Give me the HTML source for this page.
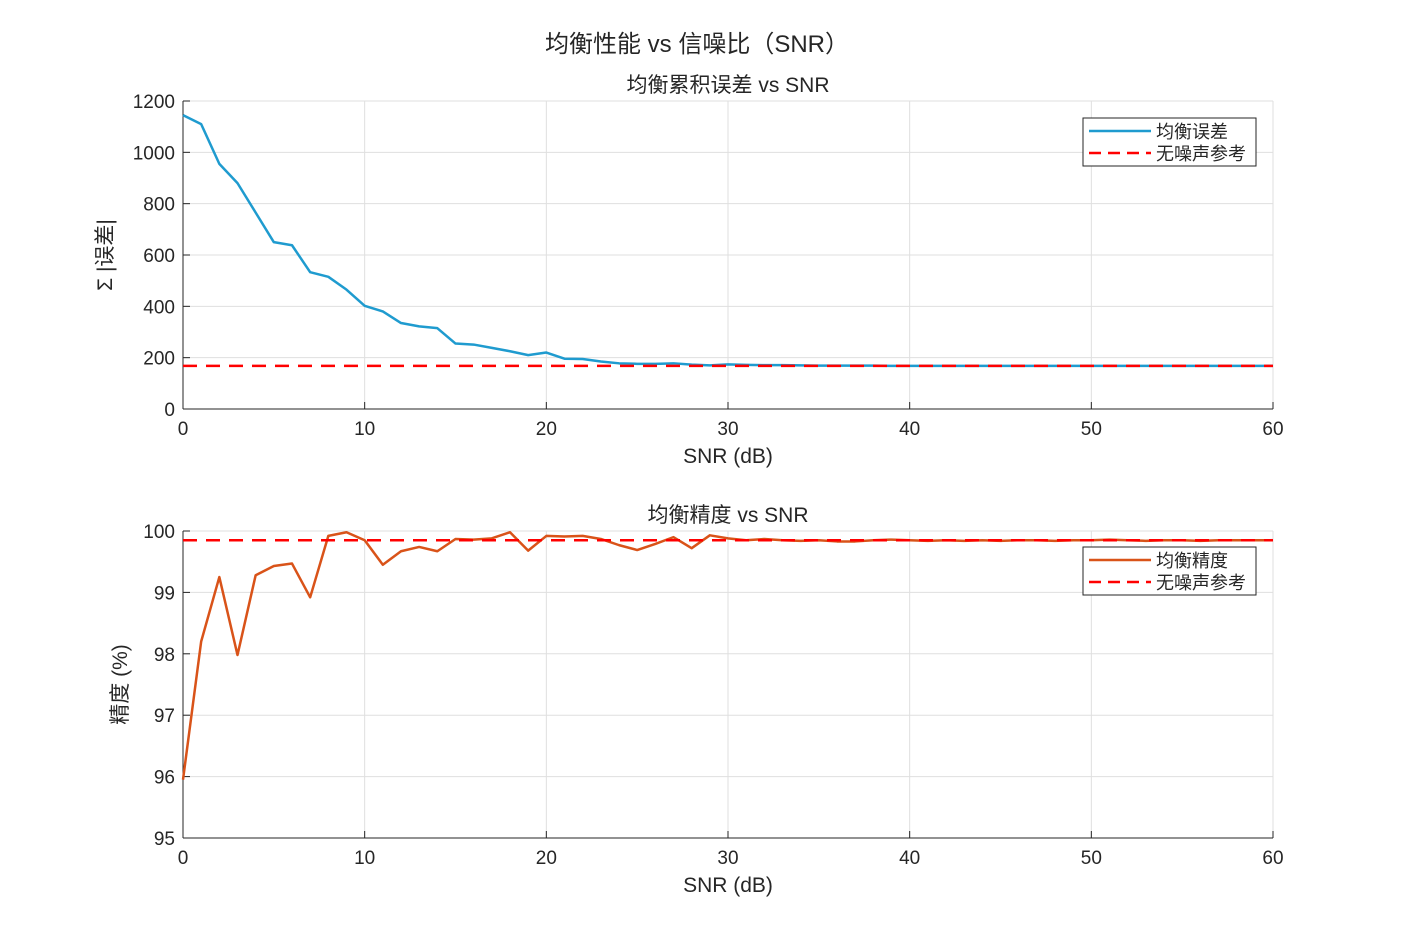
<!DOCTYPE html>
<html><head><meta charset="utf-8"><style>
body{margin:0;background:#fff}
svg text{font-family:"Liberation Sans","Noto Sans CJK SC",sans-serif;fill:#262626}
</style></head><body>
<svg id="fig" width="1407" height="938" xmlns="http://www.w3.org/2000/svg">
<rect width="1407" height="938" fill="#fff"/>
<text x="697" y="52" font-size="24" text-anchor="middle">均衡性能 vs 信噪比（SNR）</text>
</svg>
<script>
const snr=[];for(let i=0;i<=60;i++)snr.push(i);
const errVals=[1145,1110,955,880,765,650,638,533,515,465,402,380,335,322,315,255,251,238,225,210,220,196,195,185,178,176,176,178,173,170,174,172,171,171,170,169,169,169,169,168,168,168,168,168,168,168,168,168,168,168,168,168,168,168,168,168,168,168,168,168,168];
const errRef=168;
const accVals=[95.95,98.2,99.25,97.98,99.28,99.43,99.47,98.92,99.92,99.98,99.85,99.45,99.67,99.74,99.67,99.87,99.86,99.88,99.98,99.68,99.92,99.91,99.92,99.87,99.77,99.69,99.79,99.9,99.72,99.93,99.88,99.85,99.87,99.85,99.84,99.85,99.83,99.83,99.85,99.86,99.85,99.84,99.85,99.84,99.85,99.84,99.85,99.85,99.84,99.85,99.85,99.86,99.85,99.84,99.85,99.85,99.84,99.85,99.85,99.85,99.85];
const accRef=99.85;
const xTicks=[0,10,20,30,40,50,60];
const errTicks=[0,200,400,600,800,1000,1200];
const accTicks=[95,96,97,98,99,100];
const svg=document.getElementById('fig');
const NS='http://www.w3.org/2000/svg';
function mk(tag,attrs,parent){const e=document.createElementNS(NS,tag);for(const k in attrs)e.setAttribute(k,attrs[k]);(parent||svg).appendChild(e);return e;}
function panel(cfg){
  const g=mk('g',{});
  
  
  const L=183,R=1273,T=cfg.top,B=cfg.bottom;
  const xs=v=>L+(v-0)/60*(R-L);
  const ys=v=>B-(v-cfg.ymin)/(cfg.ymax-cfg.ymin)*(B-T);
  mk('rect',{x:L,y:T,width:R-L,height:B-T,fill:'#fff'},g);
  xTicks.forEach(t=>{const l=mk('line',{x1:xs(t),x2:xs(t),y1:T,y2:B,stroke:'#dfdfdf','stroke-width':1},g);
    
    mk('line',{x1:xs(t),x2:xs(t),y1:B,y2:B-7,stroke:'#262626'},g);
    const tx=mk('text',{x:xs(t),y:B+26,'font-size':19,'text-anchor':'middle'},g);tx.textContent=t;
    });
  cfg.ticks.forEach((t,i)=>{const l=mk('line',{x1:L,x2:R,y1:ys(t),y2:ys(t),stroke:'#dfdfdf','stroke-width':1},g);
    
    mk('line',{x1:L,x2:L+7,y1:ys(t),y2:ys(t),stroke:'#262626'},g);
    const tx=mk('text',{x:L-8,y:ys(t)+7,'font-size':19,'text-anchor':'end'},g);tx.textContent=cfg.tickLabels[i];
    });
  mk('line',{x1:L,x2:R,y1:B,y2:B,stroke:'#262626'},g);
  mk('line',{x1:L,x2:L,y1:T,y2:B,stroke:'#262626'},g);
  const pts=snr.map((x,i)=>xs(x)+','+ys(cfg.vals[i])).join(' ');
  const pl=mk('polyline',{points:pts,fill:'none',stroke:cfg.color,'stroke-width':2.5,'stroke-linejoin':'round'},g);
  
  const rl=mk('line',{x1:L,x2:R,y1:ys(cfg.ref),y2:ys(cfg.ref),stroke:'#ff0000','stroke-width':2.5,'stroke-dasharray':'14,9'},g);
  
  const tt=mk('text',{x:728,y:T-9,'font-size':21,'text-anchor':'middle'},g);tt.textContent=cfg.title;
  
  const xl=mk('text',{x:728,y:B+54,'font-size':21,'text-anchor':'middle'},g);xl.textContent='SNR (dB)';
  
  const yl=mk('text',{x:0,y:0,'font-size':21,'text-anchor':'middle',transform:`translate(${cfg.ylx},${(T+B)/2}) rotate(-90)`},g);yl.textContent=cfg.ylabel;
  
  const lg=mk('g',{},g);
  
  const ly=cfg.legTop;
  mk('rect',{x:1083,y:ly,width:173,height:48,fill:'#fff',stroke:'#262626','stroke-width':1},lg);
  mk('line',{x1:1089,x2:1151,y1:ly+13,y2:ly+13,stroke:cfg.color,'stroke-width':2.5},lg);
  mk('line',{x1:1089,x2:1151,y1:ly+35,y2:ly+35,stroke:'#ff0000','stroke-width':2.5,'stroke-dasharray':'12,7'},lg);
  const t1=mk('text',{x:1156,y:ly+20,'font-size':18},lg);t1.textContent=cfg.legName;
  
  const t2=mk('text',{x:1156,y:ly+42,'font-size':18},lg);t2.textContent='无噪声参考';
  
}
panel({name:'error-subplot',top:101,bottom:409,ymin:0,ymax:1200,ticks:errTicks,tickLabels:errTicks.map(String),vals:errVals,ref:errRef,color:'#1f9bcf',lineName:'error-line',title:'均衡累积误差 vs SNR',ylabel:'Σ |误差|',ylx:112,legTop:118,legName:'均衡误差'});
panel({name:'accuracy-subplot',top:531,bottom:838,ymin:95,ymax:100,ticks:accTicks,tickLabels:accTicks.map(String),vals:accVals,ref:accRef,color:'#d95319',lineName:'accuracy-line',title:'均衡精度 vs SNR',ylabel:'精度 (%)',ylx:127,legTop:547,legName:'均衡精度'});
</script>
</body></html>
